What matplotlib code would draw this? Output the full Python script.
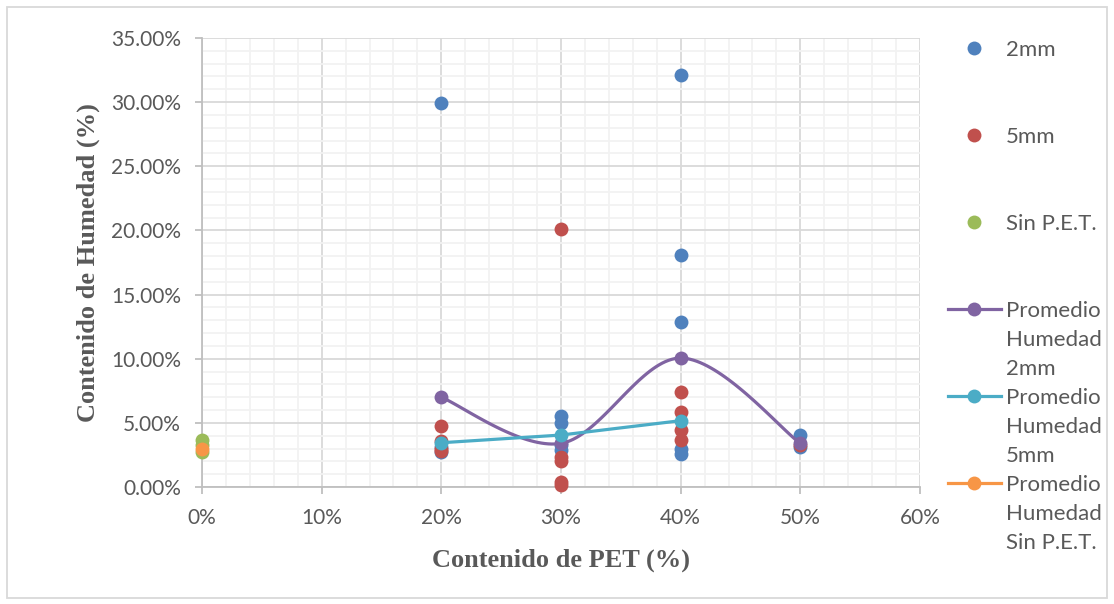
import numpy as np
import matplotlib.pyplot as plt
from matplotlib.lines import Line2D
from matplotlib.patches import Rectangle
from matplotlib.ticker import MultipleLocator, FuncFormatter

# --- data ---
pet_2mm = [20, 20, 20, 30, 30, 30, 30, 40, 40, 40, 40, 40, 50, 50]
hum_2mm = [29.93, 2.75, 3.1, 5.55, 4.95, 3.3, 2.85, 32.1, 18.1, 12.85, 2.95, 2.6, 4.05, 3.1]

pet_5mm = [20, 20, 20, 20, 30, 30, 30, 30, 30, 40, 40, 40, 40, 50]
hum_5mm = [4.75, 3.6, 3.0, 2.8, 20.1, 2.35, 2.0, 0.4, 0.15, 7.38, 5.87, 4.44, 3.7, 3.3]

pet_sin = [0, 0, 0]
hum_sin = [3.66, 3.3, 2.75]

avg_pet_2mm = [20, 30, 40, 50]
avg_hum_2mm = [6.99, 3.4, 10.05, 3.4]

avg_pet_5mm = [20, 30, 40]
avg_hum_5mm = [3.45, 4.05, 5.17]

avg_pet_sin = [0]
avg_hum_sin = [3.0]

C_BLUE = "#4F81BD"
C_RED = "#C0504D"
C_GREEN = "#9BBB59"
C_PURPLE = "#8064A2"
C_AQUA = "#4BACC6"
C_ORANGE = "#F79646"
C_TEXT = "#595959"

TICK_FONT = ["Lato", "DejaVu Sans"]
LABEL_FONT = ["Liberation Serif", "DejaVu Serif"]


def excel_smooth(xs, ys, steps=40):
    # Catmull-Rom style bezier, like Excel's "smoothed line"
    p = np.column_stack([xs, ys]).astype(float)
    n = len(p)
    out = []
    for i in range(n - 1):
        p0 = p[i - 1] if i > 0 else p[i]
        p1, p2 = p[i], p[i + 1]
        p3 = p[i + 2] if i + 2 < n else p[i + 1]
        c1 = p1 + (p2 - p0) / 6.0
        c2 = p2 - (p3 - p1) / 6.0
        t = np.linspace(0, 1, steps)[:, None]
        seg = ((1 - t) ** 3) * p1 + 3 * ((1 - t) ** 2) * t * c1 + 3 * (1 - t) * t ** 2 * c2 + t ** 3 * p2
        out.append(seg if i == 0 else seg[1:])
    seg = np.vstack(out)
    return seg[:, 0], seg[:, 1]


fig = plt.figure(figsize=(11.14, 6.04), dpi=100)
ax = fig.add_axes([202 / 1114, 117 / 604, 718 / 1114, 449 / 604])

ms = 10
ax.plot(pet_2mm, hum_2mm, "o", color=C_BLUE, ms=ms, mew=0, clip_on=False, zorder=3)
ax.plot(pet_5mm, hum_5mm, "o", color=C_RED, ms=ms, mew=0, clip_on=False, zorder=3)
ax.plot(pet_sin, hum_sin, "o", color=C_GREEN, ms=ms, mew=0, clip_on=False, zorder=3)

sx, sy = excel_smooth(avg_pet_2mm, avg_hum_2mm)
ax.plot(sx, sy, "-", color=C_PURPLE, lw=2.3, zorder=4)
ax.plot(avg_pet_2mm, avg_hum_2mm, "o", color=C_PURPLE, ms=ms, mew=0, zorder=4)
ax.plot(avg_pet_5mm, avg_hum_5mm, "-o", color=C_AQUA, lw=2.3, ms=ms, mew=0, zorder=5)
ax.plot(avg_pet_sin, avg_hum_sin, "-o", color=C_ORANGE, lw=2.3, ms=ms, mew=0, clip_on=False, zorder=5)

ax.set_xlim(0, 60)
ax.set_ylim(0, 35)
ax.xaxis.set_major_locator(MultipleLocator(10))
ax.xaxis.set_minor_locator(MultipleLocator(2))
ax.yaxis.set_major_locator(MultipleLocator(5))
ax.yaxis.set_minor_locator(MultipleLocator(1))
ax.xaxis.set_major_formatter(FuncFormatter(lambda v, _: f"{v:.0f}%"))
ax.yaxis.set_major_formatter(FuncFormatter(lambda v, _: f"{v:.2f}%"))

ax.grid(which="major", color="#D9D9D9", lw=1.3)
ax.grid(which="minor", color="#F2F2F2", lw=1.3)
ax.set_axisbelow(True)
for side in ("top", "right"):
    ax.spines[side].set_visible(False)
for side in ("left", "bottom"):
    ax.spines[side].set_color("#BFBFBF")
    ax.spines[side].set_linewidth(1.3)
ax.tick_params(which="major", length=5, width=1.3, color="#BFBFBF", labelcolor=C_TEXT,
               labelsize=15, pad=10)
ax.tick_params(which="minor", length=0)
for lab in ax.get_xticklabels() + ax.get_yticklabels():
    lab.set_family(TICK_FONT)

ax.set_xlabel("Contenido de PET (%)", family=LABEL_FONT, fontsize=19, fontweight="bold",
              color=C_TEXT, labelpad=15)
ax.set_ylabel("Contenido de Humedad (%)", family=LABEL_FONT, fontsize=19, fontweight="bold",
              color=C_TEXT, labelpad=8)

# chart border
fig.add_artist(Rectangle((7 / 1114, 6 / 604), 1100 / 1114, 591 / 604, transform=fig.transFigure,
                         fill=False, edgecolor="#D9D9D9", lw=1.3))

# legend, drawn by hand to follow Excel's layout
entries = [
    (C_BLUE, False, "2mm"),
    (C_RED, False, "5mm"),
    (C_GREEN, False, "Sin P.E.T."),
    (C_PURPLE, True, "Promedio\nHumedad\n2mm"),
    (C_AQUA, True, "Promedio\nHumedad\n5mm"),
    (C_ORANGE, True, "Promedio\nHumedad\nSin P.E.T."),
]
W, H = 1114, 604
y0, pitch = 48, 87
for i, (col, has_line, text) in enumerate(entries):
    y = 1 - (y0 + i * pitch) / H
    if has_line:
        fig.add_artist(Line2D([948 / W, 1001 / W], [y, y], color=col, lw=2.3,
                              transform=fig.transFigure))
    fig.add_artist(Line2D([974 / W], [y], marker="o", color=col, ms=ms, mew=0,
                          transform=fig.transFigure))
    fig.text(1006 / W, y + 8 / H, text, family=TICK_FONT, fontsize=16, color=C_TEXT,
             va="top", ha="left", linespacing=1.55)

fig.savefig("out.png", dpi=100)
